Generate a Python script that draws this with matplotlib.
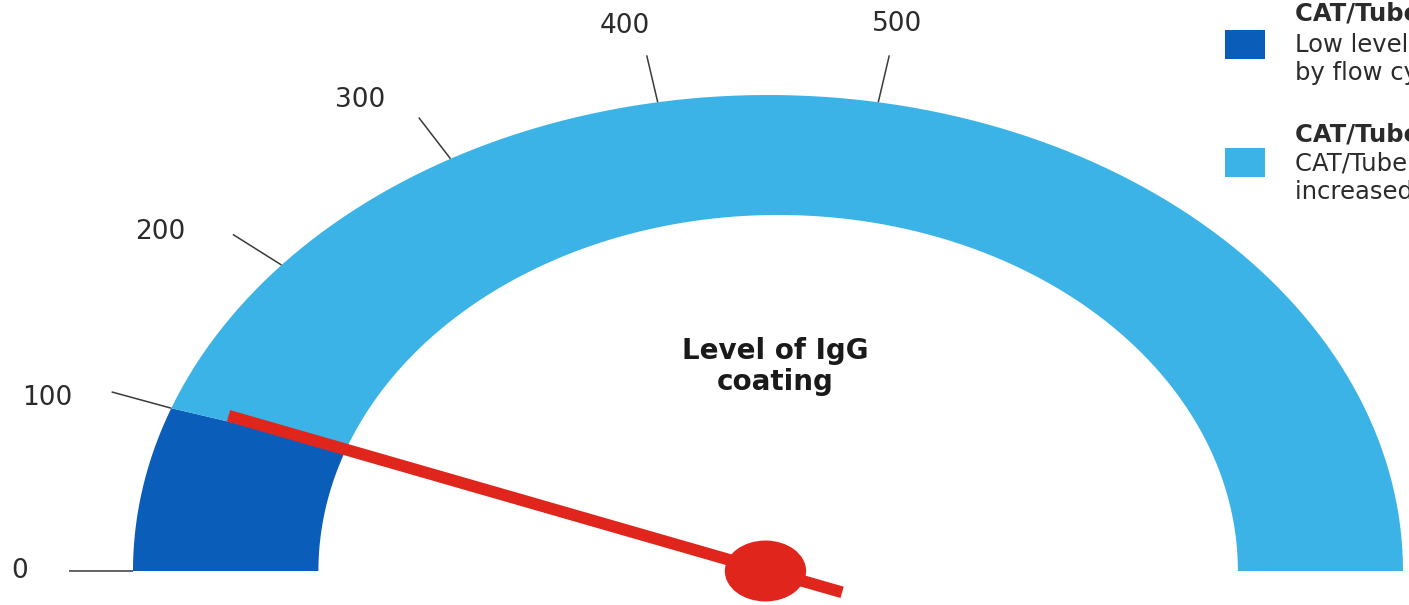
import matplotlib

matplotlib.use("Agg")
import matplotlib.pyplot as plt
import numpy as np
from matplotlib.patches import Circle, Polygon, Rectangle

plt.rcParams["font.family"] = ["DejaVu Sans"]

# gauge scale and bands
GAUGE_MIN = 0
GAUGE_MAX = 900
band_starts = [0, 100]
band_ends = [100, 900]
band_colors = ["#0A5DB8", "#3BB3E6"]

tick_values = [0, 100, 200, 300, 400, 500]
needle_value = 105
gauge_title = "Level of IgG\ncoating"

legend_titles = ["CAT/Tube 1 negative", "CAT/Tube 2 positive"]
legend_lines = [
    ["Low level of IgG detected", "by flow cytometry"],
    ["CAT/Tube 2 shows an", "increased IgG coating"],
]

# inner edge of the ring (x radius, y radius, x offset of its centre)
INNER_RX, INNER_RY, INNER_DX = 0.724, 0.748, 0.016
TEXT_COLOR = "#2B2B2B"


def value_to_angle(v):
    return 180.0 - (v - GAUGE_MIN) / (GAUGE_MAX - GAUGE_MIN) * 180.0


def ring_segment(v0, v1, n=120):
    t = np.deg2rad(np.linspace(value_to_angle(v0), value_to_angle(v1), n))
    outer = np.column_stack([np.cos(t), np.sin(t)])
    inner = np.column_stack([INNER_DX + INNER_RX * np.cos(t), INNER_RY * np.sin(t)])[::-1]
    return np.vstack([outer, inner])


def main():
    fig = plt.figure(figsize=(14.09, 6.05), dpi=100, facecolor="white")
    ax = fig.add_axes([0, 0, 1, 1])
    # one unit = 635 px across and 476 px up, gauge centre at (768, 571)
    ax.set_xlim(-768 / 635, (1409 - 768) / 635)
    ax.set_ylim(-(605 - 571) / 476, 571 / 476)
    ax.axis("off")

    for start, end, color in zip(band_starts, band_ends, band_colors):
        ax.add_patch(Polygon(ring_segment(start, end), closed=True, facecolor=color,
                             edgecolor="none", zorder=1))

    for v in tick_values:
        deg = value_to_angle(v)
        a = np.deg2rad(deg)
        ax.plot([np.cos(a) * 1.0, np.cos(a) * 1.1], [np.sin(a) * 1.0, np.sin(a) * 1.1],
                color="#3A3A3A", lw=1.1, zorder=2, solid_capstyle="butt")
        # labels sit a little further round the dial than their ticks
        shift = max(0.0, 3.4 * np.sin(np.deg2rad(2 * (180 - deg))))
        la = np.deg2rad(deg + shift)
        lr = 1.2 - 0.035 * np.sin(a) ** 4 - 0.022 * np.cos(a) ** 16
        ax.text(np.cos(la) * lr, np.sin(la) * lr, f"{v}", ha="center", va="center",
                fontsize=19, color=TEXT_COLOR)

    ax.text(0.012, 0.43, gauge_title, ha="center", va="center", fontsize=20,
            fontweight="bold", color="#1A1A1A", linespacing=1.15)

    # needle
    a = np.deg2rad(value_to_angle(needle_value))
    ax.plot([-np.cos(a) * 0.125, np.cos(a) * 0.91], [-np.sin(a) * 0.125, np.sin(a) * 0.91],
            color="#E0261C", lw=8.5, solid_capstyle="butt", zorder=3)
    ax.add_patch(Circle((-0.004, 0.0), 0.064, facecolor="#E0261C", edgecolor="none", zorder=4))

    # legend, running off the right edge
    box_y = [44, 162]
    line_y = [[14, 45, 73], [135, 163, 192]]
    for i, title in enumerate(legend_titles):
        y = box_y[i]
        fig.patches.append(Rectangle((1225 / 1409, 1 - (y + 14.5) / 605), 40 / 1409, 29 / 605,
                                     transform=fig.transFigure, facecolor=band_colors[i],
                                     edgecolor="none"))
        texts = [title] + legend_lines[i]
        for j, (txt, ty) in enumerate(zip(texts, line_y[i])):
            fig.text(1295 / 1409, 1 - ty / 605, txt, ha="left", va="center", fontsize=17.5,
                     fontweight="bold" if j == 0 else "normal", color=TEXT_COLOR)

    fig.savefig("out.png", dpi=100, facecolor="white")
    plt.close(fig)


if __name__ == "__main__":
    main()
